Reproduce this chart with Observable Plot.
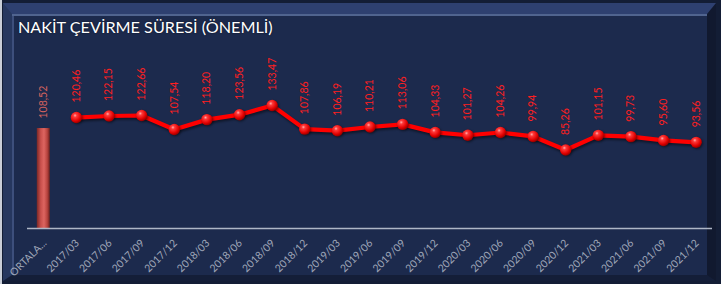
<!DOCTYPE html>
<html>
<head>
<meta charset="utf-8">
<script src="https://cdn.jsdelivr.net/npm/d3@7"></script>
<script src="https://cdn.jsdelivr.net/npm/@observablehq/plot@0.6"></script>
<style>
  html, body { margin: 0; padding: 0; background: #131d35; }
  #wrap { position: relative; width: 721px; height: 284px; overflow: hidden; font-family: Lato, sans-serif; }
  #edge { position: absolute; left: 0; top: 0; width: 2px; height: 284px; background: #c9ced8; }
  #frame { position: absolute; left: 3px; top: 3px; width: 695px; height: 261px;
    background: #1c2a4d;
    border-style: solid;
    border-width: 11px 9px 6px 9px;
    border-color: #2e4070 #11192f #141e38 #26375f;
    box-shadow: inset 0 2px 0 #50648f, inset 2px 0 0 #3d4f7c; }
  #title { position: relative; height: 24px; padding: 18px 0 0 18px; line-height: 17px;
    font-size: 16.2px; color: #ffffff; text-shadow: 0 0 2px rgba(0,0,0,0.6); white-space: nowrap; }
  #chart { position: relative; }
  #chart svg { display: block; background: transparent; }
</style>
</head>
<body>
<div id="wrap">
  <div id="edge"></div>
  <div id="frame"></div>
  <div id="title">NAKİT ÇEVİRME SÜRESİ (ÖNEMLİ)</div>
  <div id="chart"></div>
</div>
<script>
const averageLabel = "ORTALA...";
const averageValue = 108.52;
const periods = ["2017/03","2017/06","2017/09","2017/12","2018/03","2018/06","2018/09","2018/12",
  "2019/03","2019/06","2019/09","2019/12","2020/03","2020/06","2020/09","2020/12",
  "2021/03","2021/06","2021/09","2021/12"];
const values = [120.46,122.15,122.66,107.54,118.20,123.56,133.47,107.86,
  106.19,110.21,113.06,104.33,101.27,104.26,99.94,85.26,
  101.15,99.73,95.60,93.56];
const categories = [averageLabel, ...periods];

const fmt = v => v.toFixed(2).replace(".", ",");
const series = periods.map((p, i) => ({period: p, value: values[i]}));
const avg = [{period: averageLabel, value: averageValue}];

const chart = Plot.plot({
  width: 721,
  height: 242,
  marginLeft: 27,
  marginRight: 9,
  marginTop: 11,
  marginBottom: 56,
  x: {type: "band", domain: categories, padding: 0, round: false, axis: null},
  y: {domain: [0, 190], axis: null},
  style: {background: "transparent", fontFamily: "Lato, sans-serif"},
  marks: [
    Plot.barY(avg, {x: "period", y: "value", fill: "url(#barGrad)", insetLeft: 9.8, insetRight: 9.8}),
    Plot.ruleY([0], {stroke: "#aeb6c6", strokeWidth: 1.5}),
    Plot.text(avg, {x: "period", y: "value", text: d => fmt(d.value), rotate: -90,
      textAnchor: "start", lineAnchor: "middle", dy: -10, fill: "#d3625e", fontSize: 10.5}),
    Plot.line(series, {x: "period", y: "value", stroke: "#ff0000", strokeWidth: 4.2,
      strokeLinejoin: "round"}),
    Plot.dot(series, {x: "period", y: "value", r: 5.7, fill: "url(#ballGrad)", stroke: "none"}),
    Plot.text(series, {x: "period", y: "value", text: d => fmt(d.value), rotate: -90,
      textAnchor: "start", lineAnchor: "middle", dy: -15, fill: "#ff1f1f", fontSize: 10.5}),
    Plot.text(categories, {x: d => d, y: () => 0, text: d => d, rotate: -45,
      textAnchor: "end", lineAnchor: "middle", dx: 1, dy: 13, fill: "#a0a8ba", fontSize: 10.4})
  ]
});

const defs = `
<defs>
  <radialGradient id="ballGrad" cx="0.38" cy="0.32" r="0.7">
    <stop offset="0" stop-color="#ffb0b0"/>
    <stop offset="0.22" stop-color="#ff3a3a"/>
    <stop offset="0.7" stop-color="#e00000"/>
    <stop offset="1" stop-color="#8c0000"/>
  </radialGradient>
  <linearGradient id="barGrad" x1="0" x2="1" y1="0" y2="0">
    <stop offset="0" stop-color="#7a2826"/>
    <stop offset="0.3" stop-color="#c84f4b"/>
    <stop offset="0.55" stop-color="#dd6560"/>
    <stop offset="0.8" stop-color="#b8443f"/>
    <stop offset="1" stop-color="#6a201e"/>
  </linearGradient>
</defs>`;
chart.insertAdjacentHTML("afterbegin", defs);
const lineG = chart.querySelector('g[aria-label="line"]');
if (lineG) lineG.style.filter = "drop-shadow(1px 2px 1px rgba(0,0,0,0.45))";
const dotG = chart.querySelector('g[aria-label="dot"]');
if (dotG) dotG.style.filter = "drop-shadow(1px 1.5px 1px rgba(0,0,0,0.45))";
document.getElementById("chart").appendChild(chart);
</script>
</body>
</html>
